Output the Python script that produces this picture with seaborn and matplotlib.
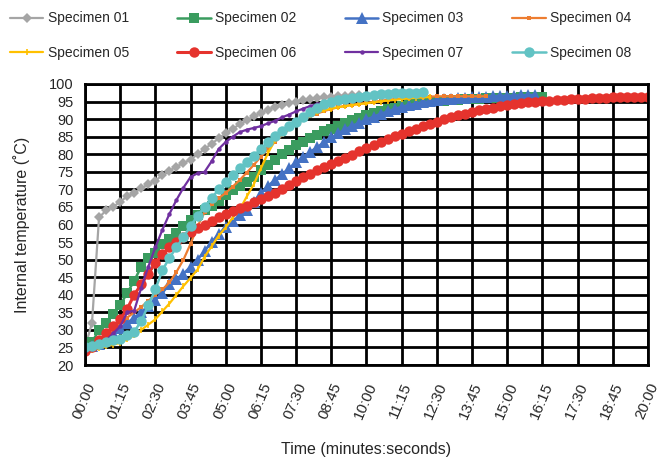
import numpy as np
import pandas as pd
import seaborn as sns
import matplotlib.pyplot as plt

# sample step of the logger (seconds)
STEP = 15

specimen_01 = [25, 32, 62, 64, 65, 66.5, 68, 69, 70.3, 71.5, 72.5, 74, 75.3, 76.5, 77.5, 78.5,
               80, 81.5, 83, 84.5, 86, 87.3, 88.5, 89.7, 90.8, 91.8, 92.7, 93.4, 94, 94.5, 95,
               95.4, 95.7, 96, 96.2, 96.4, 96.6, 96.7, 96.8, 96.9]
specimen_02 = [25, 26.5, 30, 32, 34.5, 37, 40.5, 44, 48, 50.5, 52, 54.5, 56, 57.5, 59.5, 61.2,
               62.7, 64, 65.3, 66.8, 68.3, 69.8, 71, 72.2, 73.4, 75.5, 77, 78.5, 80, 81.3, 82.5,
               83.6, 84.6, 85.6, 86.5, 87.3, 88.1, 88.9, 89.7, 90.4, 91.1, 91.7, 92.3, 92.8,
               93.3, 93.8, 94.2, 94.5, 94.8, 95, 95.2, 95.3, 95.4, 95.5, 95.6, 95.7, 95.8, 95.9,
               96, 96, 96.1, 96.1, 96.2, 96.2, 96.3, 96.3]
specimen_03 = [25, 25.3, 26, 27.5, 29, 30.5, 32, 33.5, 35, 36.8, 38.5, 40.5, 43, 44.5, 46, 48,
               50, 52.5, 55, 57.3, 59.3, 61, 62.6, 64, 66.5, 69, 71, 72.7, 74.3, 76, 77.8, 79.3,
               80.7, 82, 83.5, 84.8, 86, 87.1, 88.1, 89, 89.9, 90.7, 91.5, 92.2, 92.9, 93.5, 94,
               94.4, 94.8, 95.1, 95.4, 95.6, 95.8, 96, 96.1, 96.2, 96.3, 96.4, 96.5, 96.6, 96.7,
               96.7, 96.8, 96.8, 96.9]
specimen_04 = [24, 24.5, 25.5, 27.5, 29.5, 31.5, 33.5, 35, 36.5, 38.3, 40, 41.5, 43.5, 46.5, 50,
               54.5, 59.5, 63.5, 65.8, 67.5, 69, 70.8, 72.7, 74.8, 77, 79.3, 81.5, 83.5, 85.4,
               87.1, 88.6, 89.8, 90.8, 91.6, 92.3, 92.9, 93.4, 93.8, 94.1, 94.4, 94.6, 94.9, 95.2,
               95.5, 95.7, 95.9, 96.1, 96.2, 96.3, 96.4, 96.5, 96.5, 96.5, 96.5, 96.5, 96.5, 96.5,
               96.5]
specimen_05 = [24, 24.3, 24.8, 25.3, 25.8, 26.3, 27.3, 28.5, 30, 31.5, 33, 35.3, 37.5, 40, 42.5,
               44.8, 47.2, 50.8, 53.8, 56.8, 59.2, 62, 64.3, 68, 71.5, 76, 80.3, 84, 86.5, 88,
               89.2, 90.2, 91.2, 91.9, 92.5, 93, 93.4, 93.7, 94, 94.3, 94.5, 94.8, 95, 95.3, 95.5,
               95.7, 95.9, 96.1, 96.2, 96.3]
specimen_06 = [24, 25, 27, 29, 31, 33, 36, 40, 43, 46, 49, 51.5, 53.5, 55, 56.5, 57.8, 59, 60, 61,
               62, 63, 63.8, 64.6, 65.4, 66.3, 67.2, 68.1, 69.1, 70.1, 71.2, 72.3, 73.4, 74.4,
               75.4, 76.3, 77.2, 78.1, 79, 79.9, 80.8, 81.8, 82.6, 83.5, 84.3, 85.1, 85.9, 86.6,
               87.3, 88, 88.7, 89.3, 89.9, 90.5, 91.1, 91.6, 92.1, 92.5, 92.9, 93.3, 93.6, 93.9,
               94.2, 94.5, 94.8, 95, 95.2, 95.3, 95.4, 95.5, 95.6, 95.7, 95.8, 95.9, 96, 96.1,
               96.2, 96.2, 96.3, 96.3, 96.4, 96.4]
specimen_07 = [24, 24.5, 25.5, 27, 29, 31, 35, 35.5, 42, 48, 53.5, 58.5, 63, 67, 70.5, 73.5,
               74.6, 75, 78, 81.5, 83.5, 85, 86.3, 87, 87.5, 88, 88.8, 89.5, 90.5, 91.3, 92.2, 93,
               93.7, 94.3, 94.8, 95.2, 95.6, 96, 96.3, 96.6, 96.9, 97.1, 97.3, 97.5, 97.6, 97.7,
               97.8, 97.9]
specimen_08 = [25, 25.5, 26, 26.5, 27, 27.5, 28.5, 29.5, 32.5, 37, 41.5, 47, 50.5, 53.5, 56.5,
               59.5, 62.5, 65, 67.5, 70, 72, 74, 76, 77.8, 79.6, 81.5, 83.5, 85.3, 86.7, 88, 89.3,
               90.7, 92, 93.2, 94.2, 94.9, 95.4, 95.8, 96.1, 96.4, 96.7, 96.9, 97.1, 97.2, 97.3,
               97.4, 97.5, 97.5, 97.6]

labels = ["Specimen 01", "Specimen 02", "Specimen 03", "Specimen 04",
          "Specimen 05", "Specimen 06", "Specimen 07", "Specimen 08"]
series = [specimen_01, specimen_02, specimen_03, specimen_04,
          specimen_05, specimen_06, specimen_07, specimen_08]

colors = ["#A5A5A5", "#3A9C5F", "#4472C4", "#ED7D31",
          "#FFC000", "#E5332D", "#7030A0", "#62C3C4"]
markers = ["D", "s", "^", "s", "|", "o", "o", "o"]
marker_sizes = [5, 7.5, 8.5, 3.2, 4.5, 7.5, 3.2, 7.5]
line_widths = [1.6, 1.8, 1.8, 1.6, 1.6, 2.2, 1.6, 1.8]

tick_seconds = list(range(0, 1201, 75))
tick_labels = [f"{s // 60:02d}:{s % 60:02d}" for s in tick_seconds]


def main():
    sns.set_style("white")
    plt.rcParams["font.family"] = ["Liberation Sans", "DejaVu Sans"]

    fig = plt.figure(figsize=(6.69, 4.58), dpi=100)
    ax = fig.add_axes([0.127, 0.203, 0.8416, 0.6136])

    for name, values, col, mk, ms, lw in zip(labels, series, colors, markers,
                                             marker_sizes, line_widths):
        df = pd.DataFrame({"t": np.arange(len(values)) * STEP, "temp": values})
        sns.lineplot(data=df, x="t", y="temp", ax=ax, color=col, marker=mk,
                     markersize=ms, linewidth=lw, markeredgewidth=1.2 if mk == "|" else 0,
                     markeredgecolor=col, label=name, legend=False)

    ax.set_xlim(0, 1200)
    ax.set_ylim(20, 100)
    ax.set_xticks(tick_seconds)
    ax.set_xticklabels(tick_labels, rotation=67, ha="right", rotation_mode="anchor",
                       fontsize=11)
    ax.set_yticks(range(20, 101, 5))
    ax.tick_params(axis="y", labelsize=10.5, direction="out", length=6, width=2,
                   color="black", pad=2)
    ax.tick_params(axis="x", direction="inout", length=9, width=2, color="black", pad=7)

    ax.set_axisbelow(True)
    ax.grid(True, color="black", linewidth=2)
    for sp in ax.spines.values():
        sp.set_color("black")
        sp.set_linewidth(2)

    ax.set_xlabel("Time (minutes:seconds)", fontsize=11.5, labelpad=15)
    ax.set_ylabel("Internal temperature (˚C)", fontsize=11.5, labelpad=14)

    # legend is filled column by column, so interleave to get two rows of 01-04 / 05-08
    handles, lbls = ax.get_legend_handles_labels()
    order = [0, 4, 1, 5, 2, 6, 3, 7]
    fig.legend([handles[i] for i in order], [lbls[i] for i in order],
               loc="upper left", bbox_to_anchor=(0.015, 0.975), ncol=4,
               frameon=False, fontsize=10, handlelength=2.4, handletextpad=0.3,
               columnspacing=3.5, labelspacing=1.5, borderpad=0, borderaxespad=0)

    fig.savefig("out.png", dpi=100)
    plt.close(fig)


if __name__ == "__main__":
    main()
